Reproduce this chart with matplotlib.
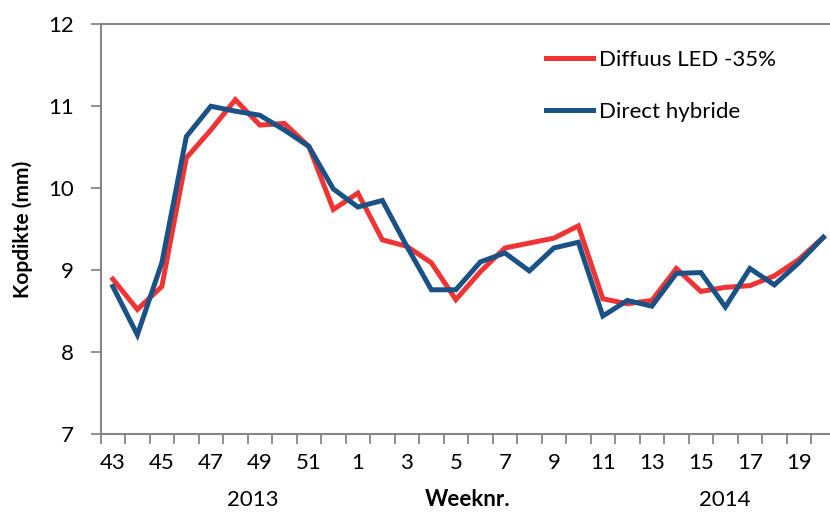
import matplotlib
matplotlib.use("Agg")
import matplotlib.pyplot as plt
import numpy as np

# week numbers, 2013 wk 43 .. 2014 wk 20
weeks = [43, 44, 45, 46, 47, 48, 49, 50, 51, 52,
         1, 2, 3, 4, 5, 6, 7, 8, 9, 10,
         11, 12, 13, 14, 15, 16, 17, 18, 19, 20]

diffuus_led = [8.89, 8.52, 8.80, 10.37, 10.71, 11.08, 10.77, 10.79, 10.51, 9.74,
               9.94, 9.37, 9.29, 9.09, 8.64, 8.98, 9.27, 9.33, 9.39, 9.54,
               8.65, 8.59, 8.63, 9.02, 8.74, 8.79, 8.81, 8.93, 9.13, 9.40]

direct_hybride = [8.80, 8.21, 9.09, 10.63, 11.00, 10.94, 10.89, 10.71, 10.51, 9.99,
                  9.77, 9.85, 9.29, 8.76, 8.76, 9.10, 9.21, 8.99, 9.27, 9.34,
                  8.44, 8.63, 8.56, 8.96, 8.97, 8.55, 9.02, 8.82, 9.09, 9.40]

red = "#EF3434"
blue = "#1B5285"
grey = "#868686"

plt.rcParams['font.family'] = ['Lato', 'DejaVu Sans']

fig = plt.figure(figsize=(8.3, 5.16), dpi=100)
# axis runs a little past the right edge, like the original
ax = fig.add_axes([100.6 / 830, 82 / 516, 735 / 830, 409.7 / 516])

x = np.arange(len(weeks))
ax.plot(x, diffuus_led, color=red, lw=3.6, solid_joinstyle="miter", label="Diffuus LED -35%")
ax.plot(x, direct_hybride, color=blue, lw=3.6, solid_joinstyle="miter", label="Direct hybride")

ax.set_xlim(-0.5, len(weeks) - 0.5)
ax.set_ylim(7, 12)
ax.set_yticks([7, 8, 9, 10, 11, 12])

# tick marks between categories, labels on every other week
ax.set_xticks(np.arange(len(weeks) + 1) - 0.5)
ax.set_xticklabels([])
ax.set_xticks(x[::2], [str(w) for w in weeks[::2]], minor=True)
ax.tick_params(axis="x", which="major", length=7, width=1.3, color=grey, direction="out")
ax.tick_params(axis="x", which="minor", length=0, pad=14, labelsize=16)
ax.tick_params(axis="y", length=7, width=1.3, color=grey, direction="out", pad=12, labelsize=16)

for s in ["left", "bottom", "top"]:
    ax.spines[s].set_color(grey)
    ax.spines[s].set_linewidth(1.5)
ax.spines["right"].set_visible(False)

ax.set_ylabel("Kopdikte (mm)", fontsize=15, fontweight="bold", labelpad=11)

fig.text(253 / 830, 1 - 500 / 516, "2013", fontsize=16, ha="center", va="center")
fig.text(468 / 830, 1 - 500 / 516, "Weeknr.", fontsize=16, fontweight="bold", ha="center", va="center")
fig.text(725 / 830, 1 - 500 / 516, "2014", fontsize=16, ha="center", va="center")

leg = ax.legend(loc="upper left", bbox_to_anchor=(526 / 830, 1 - 30 / 516),
                bbox_transform=fig.transFigure, frameon=False, fontsize=16,
                handlelength=2.1, handletextpad=0.3, labelspacing=1.45)

fig.savefig("out.png", dpi=100)
